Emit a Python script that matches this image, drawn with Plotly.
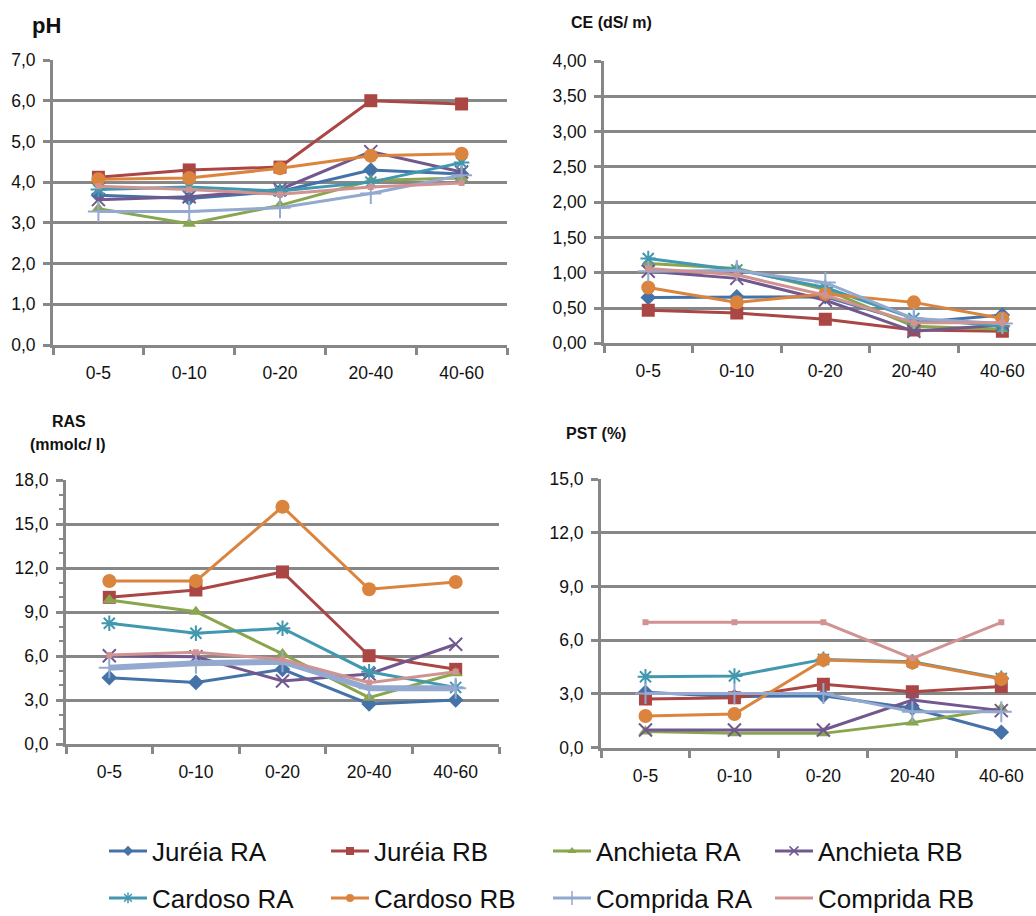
import plotly.graph_objects as go

# Soil depth classes (cm) on the x axis
depths = ["0-5", "0-10", "0-20", "20-40", "40-60"]

series_names = ["Juréia RA", "Juréia RB", "Anchieta RA", "Anchieta RB",
                "Cardoso RA", "Cardoso RB", "Comprida RA", "Comprida RB"]

# pH per series (rows follow series_names)
ph_values = [
    [3.68, 3.60, 3.77, 4.30, 4.20],
    [4.12, 4.30, 4.37, 6.00, 5.92],
    [3.35, 2.98, 3.43, 4.04, 4.10],
    [3.57, 3.64, 3.82, 4.75, 4.25],
    [3.82, 3.88, 3.78, 4.00, 4.48],
    [4.07, 4.10, 4.34, 4.65, 4.70],
    [3.28, 3.28, 3.37, 3.72, 4.17],
    [3.90, 3.82, 3.70, 3.88, 3.98],
]

# Electrical conductivity CE (dS/m)
ce_values = [
    [0.65, 0.66, 0.66, 0.29, 0.40],
    [0.47, 0.43, 0.34, 0.19, 0.17],
    [1.13, 1.06, 0.76, 0.24, 0.20],
    [1.02, 0.92, 0.61, 0.17, 0.26],
    [1.20, 1.04, 0.79, 0.35, 0.24],
    [0.79, 0.58, 0.70, 0.58, 0.35],
    [1.02, 1.03, 0.86, 0.35, 0.28],
    [1.06, 0.97, 0.68, 0.29, 0.29],
]

# Sodium adsorption ratio RAS (mmolc/l)
ras_values = [
    [4.52, 4.20, 5.09, 2.73, 3.00],
    [10.0, 10.5, 11.73, 6.02, 5.09],
    [9.82, 9.02, 6.14, 3.16, 4.82],
    [6.02, 5.95, 4.30, 4.77, 6.80],
    [8.23, 7.55, 7.89, 4.93, 3.86],
    [11.11, 11.11, 16.18, 10.55, 11.05],
    [5.20, 5.50, 5.61, 3.80, 3.80],
    [6.07, 6.25, 5.77, 4.18, 4.93],
]

# Exchangeable sodium percentage PST (%)
pst_values = [
    [3.09, 2.85, 2.90, 2.20, 0.86],
    [2.72, 2.79, 3.54, 3.13, 3.41],
    [0.90, 0.80, 0.80, 1.40, 2.20],
    [0.99, 0.99, 0.99, 2.66, 2.07],
    [3.96, 4.00, 4.93, 4.80, 3.87],
    [1.77, 1.88, 4.90, 4.76, 3.83],
    [3.03, 3.03, 3.03, 2.00, 2.00],
    [7.00, 7.00, 7.00, 4.99, 7.00],
]

colors = ["#4572A7", "#AA4643", "#89A54E", "#71588F",
          "#4198AF", "#DB843D", "#93A9CF", "#D19392"]
symbols = ["diamond", "square", "triangle-up", "x-thin-open",
           "asterisk-open", "circle", "cross-thin-open", "square"]
marker_sizes = [12, 13, 12, 13, 13, 14, 15, 6]
legend_sizes = [8, 8, 8, 9, 9, 8, 10, 1]

W, H = 1036, 916
GRID = "#878787"
FONT = "Liberation Sans, Arial, Helvetica, sans-serif"


def px(x):
    return x / W


def py(y):
    return 1 - y / H


fig = go.Figure()

panels = [
    # (values, xaxis, yaxis, width of the Comprida RA line)
    (ph_values, "x", "y", 3),
    (ce_values, "x2", "y2", 3),
    (ras_values, "x3", "y3", 6),
    (pst_values, "x4", "y4", 3),
]

for values, xa, ya, comp_w in panels:
    for i, name in enumerate(series_names):
        lw = comp_w if i == 6 else 3
        fig.add_trace(go.Scatter(
            x=depths, y=values[i], name=name, mode="lines+markers",
            xaxis=xa, yaxis=ya, showlegend=False,
            line=dict(color=colors[i], width=lw),
            marker=dict(symbol=symbols[i], size=marker_sizes[i], color=colors[i],
                        line=dict(color=colors[i], width=2 if "open" in symbols[i] else 0)),
        ))

# Legend entries (two rows of four)
for i, name in enumerate(series_names):
    fig.add_trace(go.Scatter(
        x=[None], y=[None], name=name, mode="lines+markers",
        xaxis="x", yaxis="y",
        legend="legend" if i < 4 else "legend2",
        line=dict(color=colors[i], width=3),
        marker=dict(symbol=symbols[i], size=legend_sizes[i], color=colors[i],
                    line=dict(color=colors[i], width=1.5 if "open" in symbols[i] else 0)),
    ))

tickfont = dict(family=FONT, size=17.5, color="#111111")


def xaxis(x0, x1, rng, anchor):
    return dict(domain=[px(x0), px(x1)], type="category", range=rng, anchor=anchor,
                showgrid=False, showline=True, linecolor=GRID, linewidth=3,
                ticks="outside", tickson="boundaries", ticklen=7, tickwidth=3,
                tickcolor=GRID, tickfont=tickfont, ticklabelstandoff=10,
                automargin=False, fixedrange=True)


def yaxis(y0, y1, rng, dtick, fmt, anchor, minor=None):
    d = dict(domain=[py(y1), py(y0)], range=rng, dtick=dtick, tickformat=fmt,
             showgrid=True, gridcolor=GRID, gridwidth=3, zeroline=False,
             showline=True, linecolor=GRID, linewidth=3,
             ticks="outside", ticklen=7, tickwidth=3, tickcolor=GRID,
             tickfont=tickfont, ticklabelstandoff=4, anchor=anchor,
             automargin=False, fixedrange=True)
    if minor:
        d["minor"] = minor
    return d


legend_common = dict(orientation="h", x=px(104), xanchor="left", yanchor="middle",
                     entrywidth=169, entrywidthmode="pixels", itemwidth=38,
                     font=dict(family=FONT, size=26, color="#111111"),
                     bgcolor="rgba(0,0,0,0)")

fig.update_layout(
    width=W, height=H,
    margin=dict(l=0, r=0, t=0, b=0, autoexpand=False),
    paper_bgcolor="white", plot_bgcolor="white",
    separators=",.",
    xaxis=xaxis(53, 507, [-0.5, 4.5], "y"),
    yaxis=yaxis(60, 345, [0, 7], 1, ".1f", "x"),
    xaxis2=xaxis(604, 1036, [-0.5, 4.38], "y2"),
    yaxis2=yaxis(61, 343.3, [0, 4], 0.5, ".2f", "x2"),
    xaxis3=xaxis(66, 499, [-0.5, 4.5], "y3"),
    yaxis3=yaxis(480, 744, [0, 18], 3, ".1f", "x3",
                 minor=dict(dtick=1, ticks="outside", ticklen=4, tickwidth=2,
                            tickcolor=GRID, showgrid=False)),
    xaxis4=xaxis(601, 1036, [-0.5, 4.39], "y4"),
    yaxis4=yaxis(479, 747.7, [0, 15], 3, ".1f", "x4"),
    legend=dict(y=py(851), **legend_common),
    legend2=dict(y=py(898), **legend_common),
)

titles = [
    ("pH", 30, 25, 22, "left"),
    ("CE (dS/ m)", 569, 22, 16, "left"),
    ("RAS", 69, 421, 16, "center"),
    ("(mmolc/ l)", 68, 444, 16, "center"),
    ("PST (%)", 564, 434, 16, "left"),
]
for text, x, y, size, anchor in titles:
    fig.add_annotation(
        text="<b>%s</b>" % text, xref="paper", yref="paper",
        x=px(x), y=py(y), xanchor=anchor, yanchor="middle", showarrow=False,
        font=dict(family=FONT, size=size, color="#111111"),
    )

fig.write_html("out.html")
